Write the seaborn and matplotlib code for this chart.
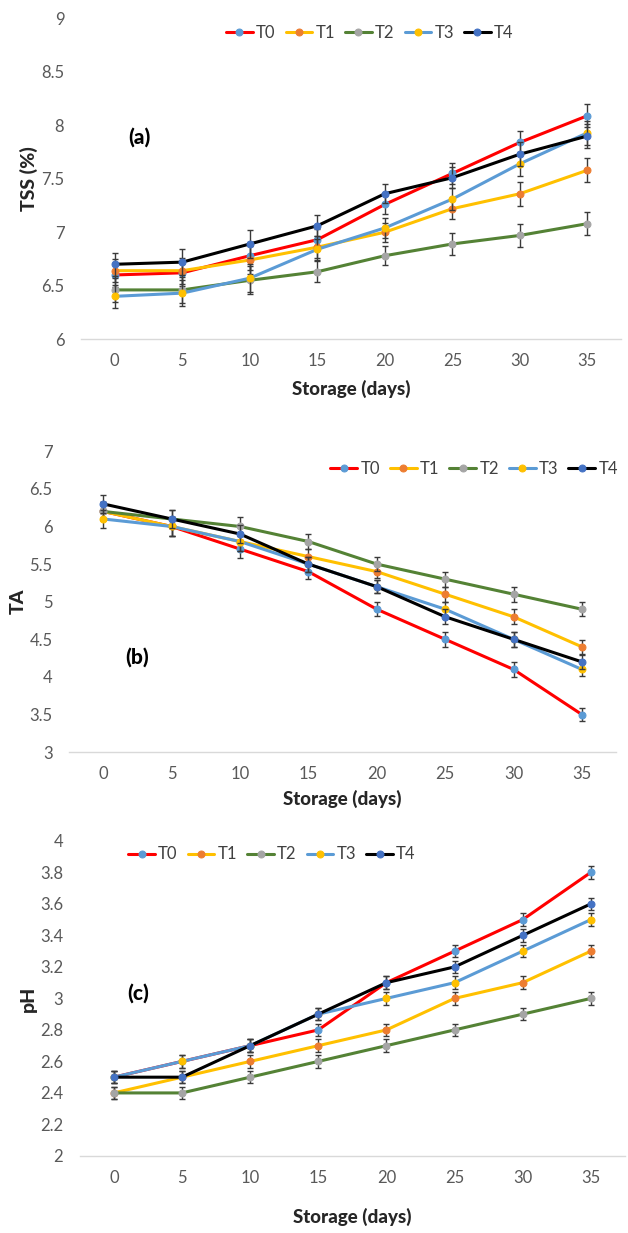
import pandas as pd
import matplotlib
matplotlib.use("Agg")
import matplotlib.pyplot as plt
import seaborn as sns
from matplotlib.ticker import FuncFormatter

# Storage time and treatments
days = [0, 5, 10, 15, 20, 25, 30, 35]
treatments = ["T0", "T1", "T2", "T3", "T4"]

# (a) TSS (%)
tss_t0 = [6.60, 6.62, 6.78, 6.93, 7.26, 7.55, 7.84, 8.09]
tss_t1 = [6.64, 6.64, 6.74, 6.86, 7.00, 7.22, 7.36, 7.58]
tss_t2 = [6.46, 6.46, 6.55, 6.63, 6.78, 6.89, 6.97, 7.08]
tss_t3 = [6.40, 6.43, 6.57, 6.84, 7.04, 7.31, 7.64, 7.93]
tss_t4 = [6.70, 6.72, 6.89, 7.06, 7.36, 7.51, 7.73, 7.90]
tss_err = [0.11, 0.12, 0.13, 0.10, 0.09, 0.10, 0.11, 0.11]

# (b) TA
ta_t0 = [6.2, 6.0, 5.7, 5.4, 4.9, 4.5, 4.1, 3.5]
ta_t1 = [6.2, 6.0, 5.8, 5.6, 5.4, 5.1, 4.8, 4.4]
ta_t2 = [6.2, 6.1, 6.0, 5.8, 5.5, 5.3, 5.1, 4.9]
ta_t3 = [6.1, 6.0, 5.8, 5.5, 5.2, 4.9, 4.5, 4.1]
ta_t4 = [6.3, 6.1, 5.9, 5.5, 5.2, 4.8, 4.5, 4.2]
ta_err = [0.12, 0.12, 0.12, 0.10, 0.09, 0.10, 0.10, 0.09]

# (c) pH
ph_t0 = [2.5, 2.6, 2.7, 2.8, 3.1, 3.3, 3.5, 3.8]
ph_t1 = [2.4, 2.5, 2.6, 2.7, 2.8, 3.0, 3.1, 3.3]
ph_t2 = [2.4, 2.4, 2.5, 2.6, 2.7, 2.8, 2.9, 3.0]
ph_t3 = [2.5, 2.6, 2.7, 2.9, 3.0, 3.1, 3.3, 3.5]
ph_t4 = [2.5, 2.5, 2.7, 2.9, 3.1, 3.2, 3.4, 3.6]
ph_err = [0.04, 0.04, 0.04, 0.04, 0.04, 0.04, 0.04, 0.04]

line_colors = ["#FF0000", "#FFC000", "#548235", "#5B9BD5", "#000000"]
marker_colors = ["#5B9BD5", "#ED7D31", "#A5A5A5", "#FFC000", "#4472C4"]

sns.set_style("white")
plt.rcParams["font.family"] = ["Lato", "DejaVu Sans"]

fig = plt.figure(figsize=(6.28, 12.33), dpi=100)

panels = [
    dict(series=[tss_t0, tss_t1, tss_t2, tss_t3, tss_t4], err=tss_err,
         ylabel="TSS (%)", ylim=(6, 9), step=0.5, tag="(a)", xpad=8,
         rect=[0.129, 0.725, 0.860, 0.260], leg=(0.589, 0.973), tagpos=(0.222, 0.889)),
    dict(series=[ta_t0, ta_t1, ta_t2, ta_t3, ta_t4], err=ta_err,
         ylabel="TA", ylim=(3, 7), step=0.5, tag="(b)", xpad=6,
         rect=[0.110, 0.390, 0.871, 0.244], leg=(0.755, 0.620), tagpos=(0.218, 0.467)),
    dict(series=[ph_t0, ph_t1, ph_t2, ph_t3, ph_t4], err=ph_err,
         ylabel="pH", ylim=(2, 4), step=0.2, tag="(c)", xpad=16,
         rect=[0.127, 0.0625, 0.868, 0.2555], leg=(0.433, 0.307), tagpos=(0.220, 0.195)),
]

for p in panels:
    ax = fig.add_axes(p["rect"])
    rows = []
    for t, vals in zip(treatments, p["series"]):
        for d, v in zip(days, vals):
            rows.append({"day": d, "value": v, "treatment": t})
    df = pd.DataFrame(rows)

    for i, t in enumerate(treatments):
        sub = df[df["treatment"] == t]
        ax.errorbar(sub["day"], sub["value"], yerr=p["err"], fmt="none",
                    ecolor="#3A3A3A", elinewidth=1, capsize=2.5, capthick=1,
                    zorder=2 + i * 2)
        sns.lineplot(data=sub, x="day", y="value", ax=ax, color=line_colors[i],
                     linewidth=2.2, marker="o", markersize=5,
                     markerfacecolor=marker_colors[i], markeredgecolor=marker_colors[i],
                     label=t, zorder=3 + i * 2, errorbar=None)

    lo, hi = p["ylim"]
    ticks = [round(lo + k * p["step"], 2) for k in range(int(round((hi - lo) / p["step"])) + 1)]
    ax.set_ylim(lo, hi)
    ax.set_yticks(ticks)
    ax.yaxis.set_major_formatter(FuncFormatter(lambda v, _: f"{v:g}"))
    ax.set_xlim(-2.5, 37.5)
    ax.set_xticks(days)

    for s in ["top", "right", "left"]:
        ax.spines[s].set_visible(False)
    ax.spines["bottom"].set_color("#D9D9D9")
    ax.spines["bottom"].set_linewidth(1)
    ax.tick_params(axis="both", length=0, labelsize=12, colors="#595959")
    ax.tick_params(axis="y", pad=12)
    ax.tick_params(axis="x", pad=10)

    ax.set_xlabel("Storage (days)", fontsize=13.5, fontweight="black", color="#262626",
                  labelpad=p["xpad"])
    ax.set_ylabel(p["ylabel"], fontsize=14, fontweight="black", color="#262626", labelpad=2)

    ax.legend(loc="center", bbox_to_anchor=p["leg"], bbox_transform=fig.transFigure,
              ncol=5, frameon=False, fontsize=12, handlelength=1.6,
              handletextpad=0.2, columnspacing=0.6, labelcolor="#404040")

    fig.text(p["tagpos"][0], p["tagpos"][1], p["tag"], fontsize=15, fontweight="black",
             ha="center", va="center", color="#000000")

fig.savefig("out.png", dpi=100)
